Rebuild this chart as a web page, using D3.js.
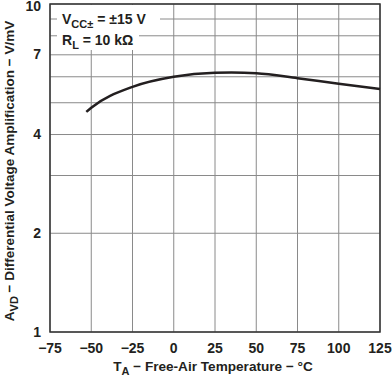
<!DOCTYPE html>
<html>
<head>
  <meta charset="utf-8">
  <script src="https://d3js.org/d3.v7.min.js"></script>
  <style>
    body { margin: 0; background: #fff; }
    text { font-family: "Liberation Sans", Arial, sans-serif; font-weight: bold; fill: #231f20; }
  </style>
</head>
<body>
<script>
// values
var temps = [-53, -50, -25, 0, 25, 35, 50, 75, 100, 125];
var gains = [4.69, 4.83, 5.59, 6.0, 6.17, 6.18, 6.15, 5.94, 5.71, 5.51];

var xTicks = [-75, -50, -25, 0, 25, 50, 75, 100, 125];
var yTicks = [1, 2, 4, 7, 10];
var yGrid = [1, 2, 3, 4, 5, 6, 7, 8, 9, 10];

var width = 392, height = 376;
var plotL = 50, plotR = 380, plotT = 4, plotB = 332;

var svg = d3.select("body").append("svg")
  .attr("width", width)
  .attr("height", height);

var x = d3.scaleLinear().domain([-75, 125]).range([plotL, plotR]);
var y = d3.scaleLog().domain([1, 10]).range([plotB, plotT]);

// grid
svg.append("g").selectAll("line")
  .data(xTicks)
  .enter().append("line")
  .attr("x1", function(d){ return x(d); })
  .attr("x2", function(d){ return x(d); })
  .attr("y1", plotT).attr("y2", plotB)
  .attr("stroke", "#8a8a8a").attr("stroke-width", 1);

svg.append("g").selectAll("line")
  .data(yGrid)
  .enter().append("line")
  .attr("x1", plotL).attr("x2", plotR)
  .attr("y1", function(d){ return y(d); })
  .attr("y2", function(d){ return y(d); })
  .attr("stroke", "#8a8a8a").attr("stroke-width", 1);

// box behind the conditions
svg.append("rect").attr("x", 57).attr("y", plotT + 1).attr("width", 103).attr("height", 26).attr("fill", "#fff");
svg.append("rect").attr("x", 57).attr("y", 30).attr("width", 82).attr("height", 20).attr("fill", "#fff");

// frame
svg.append("rect")
  .attr("x", plotL).attr("y", plotT)
  .attr("width", plotR - plotL).attr("height", plotB - plotT)
  .attr("fill", "none").attr("stroke", "#333").attr("stroke-width", 1.5);

// curve
var pts = temps.map(function(t, i){ return [t, gains[i]]; });
var line = d3.line()
  .x(function(d){ return x(d[0]); })
  .y(function(d){ return y(d[1]); })
  .curve(d3.curveMonotoneX);

svg.append("path")
  .datum(pts)
  .attr("d", line)
  .attr("fill", "none")
  .attr("stroke", "#231f20")
  .attr("stroke-width", 2.5);

// tick labels
svg.append("g").selectAll("text")
  .data(xTicks)
  .enter().append("text")
  .attr("x", function(d){ return x(d); })
  .attr("y", 353)
  .attr("text-anchor", "middle")
  .style("font-size", "14px")
  .text(function(d){ return d < 0 ? "\u2212" + Math.abs(d) : d; });

svg.append("g").selectAll("text")
  .data(yTicks)
  .enter().append("text")
  .attr("x", 41)
  .attr("y", function(d){ return Math.max(y(d) + 4.5, 10.5); })
  .attr("text-anchor", "end")
  .style("font-size", "14px")
  .text(function(d){ return d; });

// axis titles
var xt = svg.append("text")
  .attr("x", 213).attr("y", 371)
  .attr("text-anchor", "middle")
  .style("font-size", "13.6px");
xt.append("tspan").text("T");
xt.append("tspan").attr("dy", 3.5).style("font-size", "11px").text("A");
xt.append("tspan").attr("dy", -3.5).text(" \u2212 Free-Air Temperature \u2212 \u00B0C");

var yt = svg.append("text")
  .attr("transform", "translate(14,171) rotate(-90)")
  .attr("text-anchor", "middle")
  .style("font-size", "13.5px");
yt.append("tspan").text("A");
yt.append("tspan").attr("dy", 3.5).style("font-size", "11px").text("VD");
yt.append("tspan").attr("dy", -3.5).text(" \u2212 Differential Voltage Amplification \u2212 V/mV");

// conditions
var c1 = svg.append("text").attr("x", 62).attr("y", 24).style("font-size", "14px");
c1.append("tspan").text("V");
c1.append("tspan").attr("dy", 4).style("font-size", "11px").text("CC\u00B1");
c1.append("tspan").attr("dy", -4).text(" = \u00B115 V");

var c2 = svg.append("text").attr("x", 62).attr("y", 45).style("font-size", "14px");
c2.append("tspan").text("R");
c2.append("tspan").attr("dy", 4).style("font-size", "11px").text("L");
c2.append("tspan").attr("dy", -4).text(" = 10 k\u03A9");
</script>
</body>
</html>
